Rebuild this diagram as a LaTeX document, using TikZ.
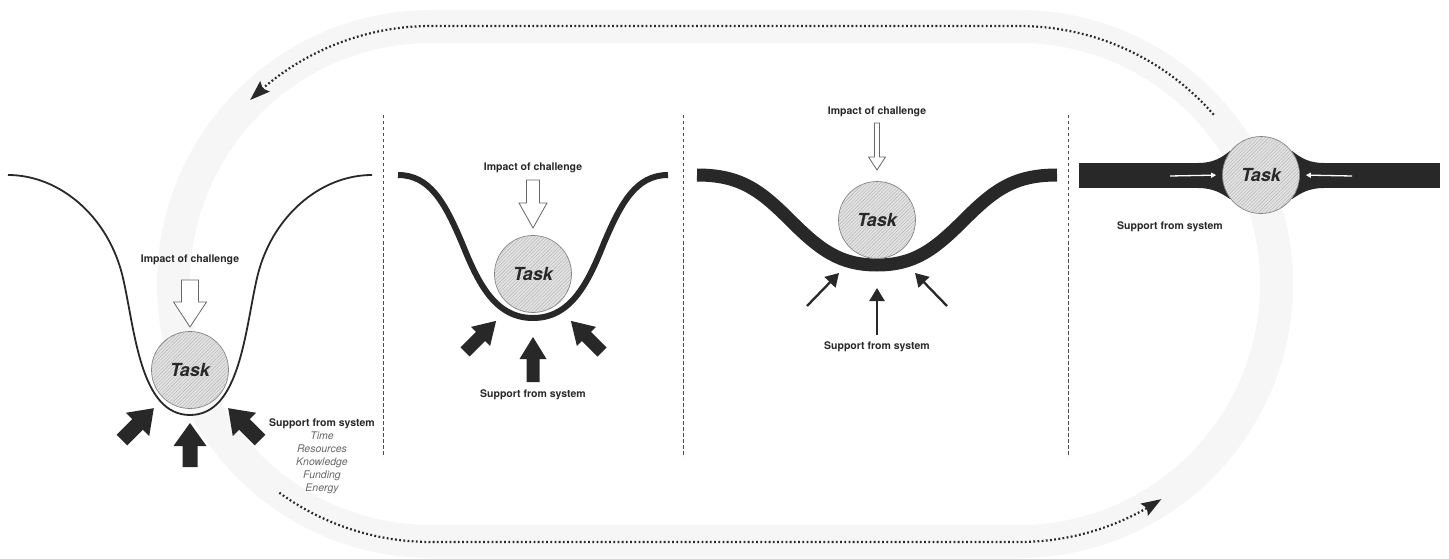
\documentclass[tikz,border=0pt]{standalone}
\usepackage{fontspec}
\setmainfont{TeX Gyre Heros}
\usepackage{xcolor}
\usepackage{tikz}
\usetikzlibrary{arrows.meta,bending,patterns.meta,calc,positioning}
\definecolor{ink}{RGB}{ 40, 40, 40}
\definecolor{lanegray}{RGB}{246,246,246}
\definecolor{ballgray}{RGB}{226,226,226}
\tikzstyle{lane}=[draw=lanegray,line width=33pt]
\tikzstyle{orbit}=[draw=ink,line width=2.2pt,dash pattern=on 1.8pt off 2.4pt,-{Stealth[length=20pt,width=14pt,inset=3pt,flex]}]
\tikzstyle{divider}=[draw=black!70,line width=1pt,dash pattern=on 3.5pt off 2.5pt]
\tikzstyle{well}=[draw=ink,line cap=butt]
\tikzstyle{task}=[circle,minimum size=77pt,inner sep=0pt,fill=ballgray,draw=black!50,line width=0.7pt,
  postaction={pattern={Lines[angle=45,distance=2.4pt,line width=0.4pt]},pattern color=black!30},
  font=\fontsize{18}{18}\selectfont\bfseries\itshape,text=ink]
\tikzstyle{caption}=[inner sep=0pt,font=\fontsize{10.5}{12}\selectfont\bfseries,text=ink]
\tikzstyle{sublist}=[inner sep=0pt,align=center,font=\fontsize{10.5}{13}\selectfont\itshape,text=black!60]
\tikzstyle{impact}=[fill=white,draw=black!60,line width=0.8pt]
\tikzstyle{support}=[fill=ink]
\tikzstyle{push}=[draw=ink,line width=2.3pt,-{Triangle[length=13pt,width=15pt]}]
\tikzstyle{inflow}=[draw=white,line width=1.3pt,shorten >=6pt,-{Triangle[length=5pt,width=5pt]}]
% block arrow: length / shaft half width / head half width / head length / style
\tikzset{pics/block/.style n args={5}{code={
  \path[#5] (0,-#2) -- ({#1-#4},-#2) -- ({#1-#4},-#3) -- (#1,0)
            -- ({#1-#4},#3) -- ({#1-#4},#2) -- (0,#2) -- cycle;
}}}

\begin{document}
\begin{tikzpicture}[x=1pt,y=1pt]
\useasboundingbox (0,0) rectangle (1449,558);

% Background lane and cycle arrows
\coordinate (lc) at (431,274);
\coordinate (rc) at (1019,274);
\draw[lane] ($(lc)+(0,257.5)$) arc[start angle=90,end angle=270,radius=257.5pt]
  -- ($(rc)+(0,-257.5)$) arc[start angle=-90,end angle=90,radius=257.5pt] -- cycle;
\draw[orbit] ($(rc)+(41:258pt)$) arc[start angle=41,end angle=90,radius=258pt]
  -- ($(lc)+(90:258pt)$) arc[start angle=90,end angle=134.5,radius=258pt];
\draw[orbit] ($(lc)+(234:258pt)$) arc[start angle=234,end angle=270,radius=258pt]
  -- ($(rc)+(270:258pt)$) arc[start angle=270,end angle=303.5,radius=258pt];

% Dividers
\foreach \x in {383,683,1068}
  \draw[divider] (\x,443) -- (\x,101);

% Wells
\draw[well,line width=1.8pt] (8,383) .. controls (60,383) and (109,341) .. (123,280)
  .. controls (135,228) and (140,143) .. (190,143)
  .. controls (240,143) and (245,228) .. (257,280)
  .. controls (271,341) and (320,383) .. (372,383);
\draw[well,line width=6pt] (398,383) .. controls (430,383) and (445,355) .. (462,315)
  .. controls (478,275) and (495,240) .. (533,240)
  .. controls (571,240) and (588,275) .. (604,315)
  .. controls (621,355) and (636,383) .. (668,383);
\draw[well,line width=13pt] (697,383) .. controls (740,383) and (760,368) .. (790,338)
  .. controls (820,308) and (840,293) .. (877,293)
  .. controls (914,293) and (934,308) .. (964,338)
  .. controls (994,368) and (1014,383) .. (1057,383);

% Flat bar
\fill[ink] (1079,370) rectangle (1440,395);
\fill[ink] (1198,395) .. controls (1213,395) and (1221,400) .. (1230,407) -- (1261,383) -- (1198,383) -- cycle;
\fill[ink] (1198,370) .. controls (1213,370) and (1221,365) .. (1230,359) -- (1261,383) -- (1198,383) -- cycle;
\fill[ink] (1324,395) .. controls (1309,395) and (1301,400) .. (1292,407) -- (1261,383) -- (1324,383) -- cycle;
\fill[ink] (1324,370) .. controls (1309,370) and (1301,365) .. (1292,359) -- (1261,383) -- (1324,383) -- cycle;

% Nodes
\node[task] (task1) at (190,188) {Task};
\node[task] (task2) at (533,284) {Task};
\node[task] (task3) at (877,338) {Task};
\node[task] (task4) at (1261,383) {Task};

\node[caption] (challenge1) at (190,298) {Impact of challenge};
\node[caption] (challenge2) at (533,390) {Impact of challenge};
\node[caption] (challenge3) at (877,446) {Impact of challenge};
\node[caption] (system1)    at (322,134) {Support from system};
\node[sublist,anchor=north] (means) at (322,126) {Time\\Resources\\Knowledge\\Funding\\Energy};
\node[caption] (system2)    at (533,163) {Support from system};
\node[caption] (system3)    at (877,211) {Support from system};
\node[caption] (system4)    at (1170,331) {Support from system};

% Arrows
\pic[rotate=-90] at (190,278) {block={47}{8.5}{16.5}{25}{impact}};
\pic[rotate=90]  at (190,91)  {block={44}{7.5}{16.5}{23}{support}};
\pic[rotate=45]  at (122,118) {block={45}{7.5}{16.5}{23}{support}};
\pic[rotate=135] at (260,118) {block={45}{7.5}{16.5}{23}{support}};

\pic[rotate=-90] at (533,378) {block={48}{6.5}{14}{25}{impact}};
\pic[rotate=90]  at (533,176) {block={45}{6.5}{13.5}{22}{support}};
\pic[rotate=45]  at (465,206) {block={44}{6.5}{13.5}{22}{support}};
\pic[rotate=135] at (602,206) {block={44}{6.5}{13.5}{22}{support}};

\pic[rotate=-90] at (877,435) {block={47}{2.5}{8.5}{13}{impact}};
\coordinate (well3) at (877,293);
\draw[push] ($(well3)+(0,-70)$)   -- ($(well3)+(0,-23)$);
\draw[push] ($(well3)+(-70,-41)$) -- ($(well3)+(-38,-8)$);
\draw[push] ($(well3)+(70,-41)$)  -- ($(well3)+(38,-8)$);

\draw[inflow] (1170,382) -- (task4.west);
\draw[inflow] (1352,382) -- (task4.east);

\end{tikzpicture}
\end{document}
